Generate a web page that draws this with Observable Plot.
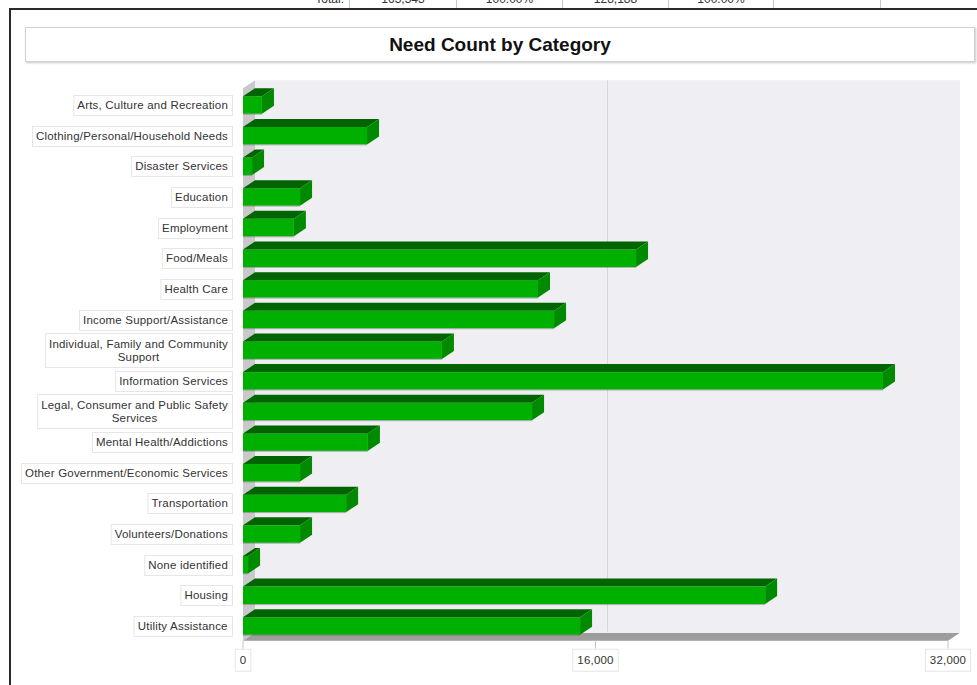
<!DOCTYPE html>
<html>
<head>
<meta charset="utf-8">
<script src="https://cdn.jsdelivr.net/npm/d3@7"></script>
<script src="https://cdn.jsdelivr.net/npm/@observablehq/plot@0.6"></script>
<style>
  html, body { margin: 0; padding: 0; background: #fff; }
  body { width: 977px; height: 685px; overflow: hidden; position: relative; font-family: "Liberation Sans", Arial, sans-serif; }
  #toprow { position: absolute; top: -10px; left: 0; width: 977px; height: 19px; }
  #toprow .cell { position: absolute; top: 0; height: 19px; line-height: 18px; font-size: 12px; color: #333; text-align: center; border-right: 1px solid #c8c8d2; }
  #frameTop { position: absolute; left: 9px; top: 8px; width: 968px; height: 2px; background: #2a2a2a; }
  #frameLeft { position: absolute; left: 9px; top: 8px; width: 2px; height: 677px; background: #2a2a2a; }
  #title { position: absolute; left: 25px; top: 27px; width: 948px; height: 33px; border: 1px solid #d2d2d2; box-shadow: 1px 1px 2px #c8c8c8; background: #fff;
           font-weight: bold; font-size: 19px; color: #111; text-align: center; line-height: 34px; }
  #chart { position: absolute; left: 0; top: 70px; }
</style>
</head>
<body>
<div id="toprow"></div>
<div id="frameTop"></div>
<div id="frameLeft"></div>
<div id="title"></div>
<div id="chart"></div>
<script>
// ---- data ----
const title = "Need Count by Category";
const categories = [
  "Arts, Culture and Recreation",
  "Clothing/Personal/Household Needs",
  "Disaster Services",
  "Education",
  "Employment",
  "Food/Meals",
  "Health Care",
  "Income Support/Assistance",
  "Individual, Family and Community Support",
  "Information Services",
  "Legal, Consumer and Public Safety Services",
  "Mental Health/Addictions",
  "Other Government/Economic Services",
  "Transportation",
  "Volunteers/Donations",
  "None identified",
  "Housing",
  "Utility Assistance"
];
const counts = [860, 5630, 410, 2590, 2310, 17840, 13390, 14120, 9030, 29050, 13120, 5670, 2590, 4680, 2590, 230, 23700, 15300];
const xTicks = [0, 16000, 32000];
const xDomain = [0, 32000];
const wrappedLabels = {
  "Individual, Family and Community Support": ["Individual, Family and Community", "Support"],
  "Legal, Consumer and Public Safety Services": ["Legal, Consumer and Public Safety", "Services"]
};
const summaryCells = ["Total:", "163,343", "100.00%", "128,188", "100.00%", "", ""];
const summaryEdges = [243, 350, 457, 563, 669, 774, 881];

// ---- page chrome ----
document.getElementById("title").textContent = title;
const toprow = document.getElementById("toprow");
summaryCells.forEach((t, i) => {
  const d = document.createElement("div");
  d.className = "cell";
  d.style.left = summaryEdges[i] + "px";
  d.style.width = ((summaryEdges[i + 1] || 987) - summaryEdges[i] - 1) + "px";
  if (i === 0) { d.style.textAlign = "right"; d.style.paddingRight = "5px"; d.style.width = (summaryEdges[1] - summaryEdges[0] - 6) + "px"; }
  d.textContent = t;
  toprow.appendChild(d);
});

const data = categories.map((c, i) => ({category: c, count: counts[i]}));

// 3D depth offsets (pixels)
const DX = 12, DY = -8;
const fontFamily = "'Liberation Sans', Arial, sans-serif";
const FS = 11.5, LS = 0.2;
const ctx = document.createElement("canvas").getContext("2d");
ctx.font = FS + "px 'Liberation Sans'";
const measure = s => ctx.measureText(s).width + LS * s.length;

function bandwidthOf(y) { return y.bandwidth ? y.bandwidth() : 17.5; }
function wallTop(y) { return y(categories[0]) - 16; }
function floorY(y) { return y(categories[categories.length - 1]) + bandwidthOf(y) + 6; }

// walls, floor, gridline
function wallsMark(index, {x, y}) {
  const g = d3.create("svg:g");
  const xa = x(xDomain[0]), xb = x(xDomain[1]);
  const top = wallTop(y), floor = floorY(y);
  g.append("rect").attr("x", xa + DX).attr("y", top).attr("width", xb - xa).attr("height", floor + DY - top).attr("fill", "#eeeef3");
  g.append("path").attr("d", d3.line()([[xa, top - DY], [xa + DX, top], [xa + DX, floor + DY], [xa, floor]]) + "Z").attr("fill", "#c9c9cc");
  xTicks.slice(1, -1).forEach(t => {
    g.append("line").attr("x1", x(t) + DX).attr("x2", x(t) + DX).attr("y1", top).attr("y2", floor + DY).attr("stroke", "#d5d5de");
  });
  g.append("path").attr("d", d3.line()([[xa, floor], [xb, floor], [xb + DX, floor + DY], [xa + DX, floor + DY]]) + "Z").attr("fill", "#9d9d9d");
  g.append("line").attr("x1", xa + DX).attr("x2", xb + DX).attr("y1", floor + DY - 0.5).attr("y2", floor + DY - 0.5).attr("stroke", "#f6f6f6");
  return g.node();
}

// top and side faces of the bars
function facesMark(index, {x, y}) {
  const g = d3.create("svg:g");
  const bw = bandwidthOf(y);
  data.forEach(d => {
    const x0 = x(0), x1 = x(d.count);
    const yt = y(d.category), yb = yt + bw;
    g.append("path").attr("d", d3.line()([[x0, yt], [x1, yt], [x1 + DX, yt + DY], [x0 + DX, yt + DY]]) + "Z").attr("fill", "#006400");
    g.append("path").attr("d", d3.line()([[x1, yt], [x1 + DX, yt + DY], [x1 + DX, yb + DY], [x1, yb]]) + "Z").attr("fill", "#008a00");
    g.append("line").attr("x1", x0).attr("x2", x1).attr("y1", yb + 0.5).attr("y2", yb + 0.5).attr("stroke", "rgba(90,110,90,0.45)");
  });
  return g.node();
}

// category labels in boxes
function labelsMark(index, {x, y}) {
  const g = d3.create("svg:g").attr("font-family", fontFamily).attr("font-size", FS).attr("letter-spacing", LS).attr("fill", "#333");
  const bw = bandwidthOf(y);
  const right = x(0) - 11;
  categories.forEach(c => {
    const lines = wrappedLabels[c] || [c];
    const w = d3.max(lines, measure) + 8;
    const h = lines.length > 1 ? 34 : 20;
    const cy = y(c) + bw / 2;
    g.append("rect").attr("x", right - w + 0.5).attr("y", Math.round(cy - h / 2) + 0.5).attr("width", w).attr("height", h)
      .attr("fill", "#fff").attr("stroke", "#e6e6e6");
    lines.forEach((l, j) => {
      g.append("text").attr("x", right - w / 2).attr("y", cy + (j - (lines.length - 1) / 2) * 13)
        .attr("dy", "0.35em").attr("text-anchor", "middle").text(l);
    });
  });
  return g.node();
}

// x axis ticks and labels in boxes
function xAxisMark(index, {x, y}) {
  const g = d3.create("svg:g").attr("font-family", fontFamily).attr("font-size", FS).attr("letter-spacing", LS).attr("fill", "#333");
  const floor = floorY(y);
  const fmt = d3.format(",");
  xTicks.forEach(t => {
    const px = x(t);
    const label = fmt(t);
    const w = measure(label) + 9;
    g.append("line").attr("x1", px).attr("x2", px).attr("y1", floor).attr("y2", floor + 8).attr("stroke", "#c4c4c4");
    g.append("rect").attr("x", px - w / 2).attr("y", floor + 8.5).attr("width", w).attr("height", 22).attr("fill", "#fff").attr("stroke", "#e6e6e6");
    g.append("text").attr("x", px).attr("y", floor + 19.5).attr("dy", "0.35em").attr("text-anchor", "middle").text(label);
  });
  return g.node();
}

const chart = Plot.plot({
  width: 977,
  height: 615,
  marginLeft: 243,
  marginRight: 29,
  marginTop: 13,
  marginBottom: 37,
  style: {background: "transparent", fontFamily: fontFamily, fontSize: "11px", overflow: "visible"},
  x: {domain: xDomain, range: [243, 948], axis: null},
  y: {domain: categories, range: [13.1, 577.9], padding: 0.43, round: false, axis: null},
  marks: [
    wallsMark,
    Plot.barX(data, {x: "count", y: "category", fill: "#00b000"}),
    facesMark,
    labelsMark,
    xAxisMark
  ]
});
document.getElementById("chart").appendChild(chart);
</script>
</body>
</html>
